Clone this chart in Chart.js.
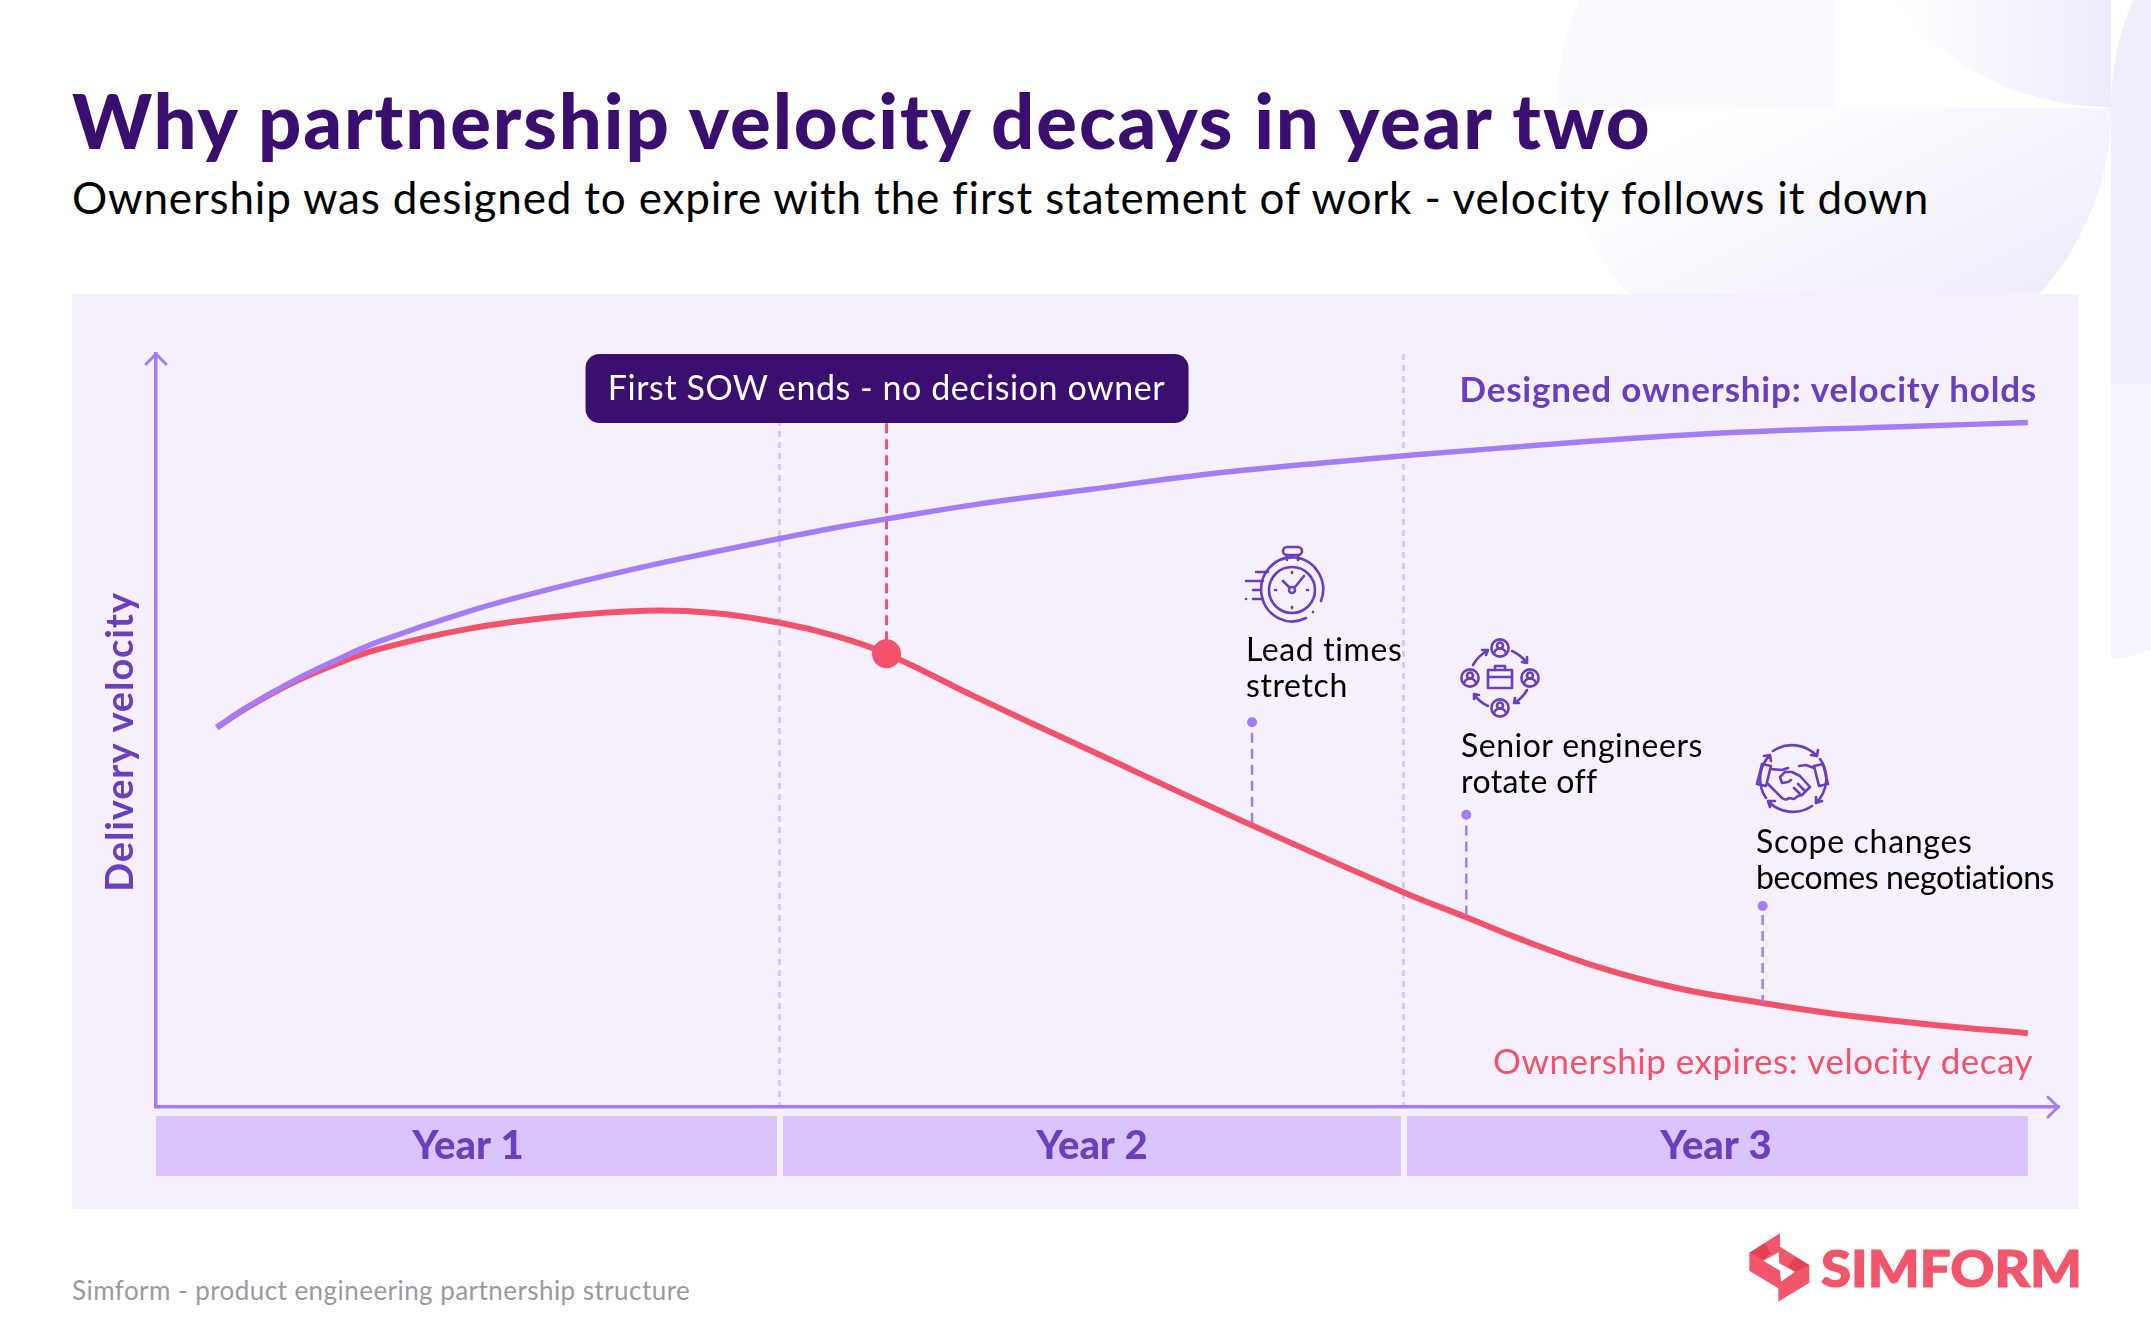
<!DOCTYPE html><html lang="en"><head><meta charset="UTF-8">
<title>Why partnership velocity decays in year two</title>
<script src="https://cdn.jsdelivr.net/npm/chart.js"></script>
<style>
    html, body { margin: 0; padding: 0; background: #fff; }
    body { position: relative; width: 2151px; height: 1335px; overflow: hidden; font-family: Lato, sans-serif; }
    svg, canvas, .panel, h1, h2, .source { position: absolute; }
    .panel { left: 72px; top: 294px; width: 2007px; height: 915px; background: rgba(245, 238, 253, 0.88); }
    h1 { left: 72px; top: 75px; margin: 0; font-size: 76px; line-height: 90px; font-weight: 900; letter-spacing: 1.9px; color: #3a0e6e; white-space: nowrap; }
    h2 { left: 72px; top: 167px; margin: 0; font-size: 44px; line-height: 60px; font-weight: 400; letter-spacing: 0.83px; color: #000; white-space: nowrap; }
    .source { left: 72px; top: 1274px; font-size: 26px; line-height: 32px; letter-spacing: 0.45px; color: #9a9aa2; white-space: nowrap; }
</style>
</head>
<body>
    <svg width="2151" height="1335" viewBox="0 0 2151 1335">
        <defs>
            <linearGradient id="fadeA" x1="0" y1="0" x2="1" y2="1"><stop offset="0.15" stop-color="#fff"/><stop offset="0.85" stop-color="#efe9fb"/></linearGradient>
            <linearGradient id="fadeB" x1="0" y1="0" x2="1" y2="0"><stop offset="0" stop-color="#fff"/><stop offset="1" stop-color="#efeafb"/></linearGradient>
        </defs>
        <path d="M1834,108 L1557,108 A277,277 0 0 1 1834,-169 Z" fill="#fbf9fe"/>
        <path d="M1557,108 A277,277 0 0 0 2111,108 Z" fill="url(#fadeA)"/>
        <path d="M2111,107 A277,277 0 0 1 1892,0 L2111,0 Z" fill="url(#fadeB)"/>
        <path d="M2111,107 A277,277 0 0 1 2133,0 L2151,0 L2151,107 Z" fill="#f1edfb"/>
        <rect x="2111" y="107" width="40" height="277" fill="#f2eefc"/>
        <path d="M2111,384 L2151,384 L2151,650 A277,277 0 0 1 2111,660 Z" fill="#f8f5fe"/>
    </svg>
    <div class="panel"></div>
    <h1>Why partnership velocity decays in year two</h1>
    <h2>Ownership was designed to expire with the first statement of work - velocity follows it down</h2>
    <div class="source">Simform - product engineering partnership structure</div>
    <canvas id="chart" width="2151" height="1335"></canvas>

    <svg width="2151" height="1335" viewBox="0 0 2151 1335" fill="none" stroke="#6a3fbf" stroke-width="2.6" stroke-linecap="round" stroke-linejoin="round">
        <!-- stopwatch -->
        <g>
            <path d="M1321,601 A31,32 0 1 0 1306,618 M1313,612 v.1"/>
            <circle cx="1292" cy="590" r="23"/>
            <rect x="1283" y="547" width="19" height="8" rx="4"/>
            <path d="M1287,555 v5 M1298,555 v5"/>
            <path d="M1295,587 l9,-11 M1289,587 l-6,-6"/>
            <circle cx="1292" cy="590" r="3"/>
            <path d="M1292,572 v1 M1292,607 v1 M1275,590 h1 M1307,590 h1"/>
            <path d="M1256,572 h12 M1246,581 h17 M1253,590 h8 M1253,599 h10 M1246,599 h.1"/>
        </g>
        <!-- people around a briefcase -->
        <g>
            <g id="person">
                <circle cx="1500" cy="648" r="8.6"/>
                <circle cx="1500" cy="645.5" r="3"/>
                <path d="M1494,654 a6,5.5 0 0 1 12,0"/>
            </g>
            <use href="#person" y="60"/>
            <use href="#person" x="-30" y="30"/>
            <use href="#person" x="30" y="30"/>
            <rect x="1488" y="670" width="24" height="18"/>
            <path d="M1495,670 v-4 h10 v4 M1488,677 h24"/>
            <path d="M1473,665 q5,-9 15,-15 M1488,650 l-6,0 M1488,650 l-2,5"/>
            <path d="M1512,651 q9,4 15,12 M1527,663 l-5,-1 M1527,663 l0,-6"/>
            <path d="M1527,690 q-5,9 -13,13 M1514,703 l5,0 M1514,703 l1,-5"/>
            <path d="M1488,706 q-9,-4 -14,-12 M1474,694 l5,1 M1474,694 l0,5"/>
        </g>
        <!-- handshake with cycle arrows -->
        <g>
            <path d="M1766,798 A34,34 0 0 1 1770,755 M1770,755 l-6,1 M1770,755 l1,6"/>
            <path d="M1773,751 A34,34 0 0 1 1817,756 M1817,756 l-6,-1 M1817,756 l1,-6"/>
            <path d="M1820,759 A34,34 0 0 1 1816,803 M1816,803 l0,-6 M1816,803 l6,-2"/>
            <path d="M1812,806 A34,34 0 0 1 1768,801 M1768,801 l7,0 M1768,801 l2,6"/>
            <path d="M1771,766 l-9,-2 l-5,20 l9,2 Z M1814,766 l9,-2 l5,20 l-9,2 Z"/>
            <path d="M1770,769 l12,1 l6,-2 M1768,784 l14,14 q4,3 7,0 l5,1 l4,-3 l4,-1 l8,-8 l-10,-11 l-8,-4 l-7,0 l-5,5 l2,6 l6,-1 l3,-2"/>
            <path d="M1799,766 l7,-1 l8,3 M1794,788 l6,6 M1798,784 l6,6"/>
        </g>
    </svg>

    <svg width="2151" height="1335" viewBox="0 0 2151 1335">
        <g transform="translate(1720,1200) scale(0.3333)">
            <path d="M180,100 L88,158 L88,212 L175,265 L175,305 L268,248 L268,195 L180,140 Z" fill="#f2566c"/>
            <path d="M88,158 L134,130 L152,160 L130,180 L88,158" fill="#dc3146" opacity="0.6"/>
            <path d="M268,195 L225,170 L205,200 L225,215 L268,195" fill="#dc3146" opacity="0.6"/>
            <path d="M130,182 L176,157 L178,190 L225,215 L183,245 L180,212 Z" fill="#fff"/>
        </g>
        <text x="1821" y="1287" font-family="Lato" font-weight="900" font-size="51" fill="#f2566c" stroke="#f2566c" stroke-width="1.2" textLength="261" lengthAdjust="spacingAndGlyphs">SIMFORM</text>
    </svg>

    <script>
        const designedMonths = [1.17, 1.7, 2.56, 3.42, 4.28, 6, 7.71, 9.42, 10.72, 12, 13.04, 14.05, 15.75, 17.95, 20.16, 22.37, 25.85, 29.84, 33.83, 36];
        const designedVelocity = [50.4, 52.9, 56.3, 59.2, 61.8, 65.8, 69.0, 71.8, 73.7, 75.5, 76.9, 78.1, 80.0, 82.0, 84.0, 85.5, 87.5, 89.4, 90.4, 90.9];
        const decayMonths = [1.17, 1.7, 2.56, 3.42, 4.28, 6, 7.71, 9.42, 10.72, 12, 13.04, 14.05, 15.75, 17.95, 21.08, 24, 25.2, 26.2, 27.73, 29.25, 30.9, 32.3, 34.2, 36];
        const decayVelocity = [50.4, 52.8, 56.1, 58.7, 60.8, 63.5, 65.1, 65.9, 65.6, 64.3, 62.6, 60.2, 54.5, 47.4, 37.4, 28.5, 25.2, 22.4, 18.6, 15.8, 13.8, 12.35, 10.9, 9.8];
        const yearLabels = ["Year 1", "Year 2", "Year 3"];
        const yearCentres = [6, 18, 30];
        const yearStarts = [0, 12, 24];
        const yearDividers = [12, 24];
        const sowMonth = 14.05;
        const sowVelocity = 60.2;
        const sowTop = 90.8;
        const calloutMonths = [21.08, 25.2, 30.9];
        const calloutDots = [51.1, 38.8, 26.7];
        const calloutTops = [49.7, 37.4, 25.5];
        const calloutBottoms = [37.4, 25.2, 13.8];

        const PURPLE = "#a47cf9";
        const DEEP = "#6a3fbf";
        const RED = "#f2536b";
        const FONT = "Lato, sans-serif";

        function stem(month, top, bottom, color, width) {
            return {
                data: [{x: month, y: top}, {x: month, y: bottom}],
                borderColor: color,
                borderWidth: width,
                borderDash: [10, 6],
                pointRadius: 0
            };
        }

        const datasets = [
            {
                label: "Designed ownership",
                data: designedMonths.map((m, i) => ({x: m, y: designedVelocity[i]})),
                borderColor: PURPLE,
                borderWidth: 5.5,
                tension: 0.4,
                pointRadius: 0
            },
            stem(sowMonth, sowTop, sowVelocity, RED, 3)
        ];
        calloutMonths.forEach((m, i) => {
            datasets.push(stem(m, calloutTops[i], calloutBottoms[i], PURPLE, 2.5));
            datasets.push({
                data: [{x: m, y: calloutDots[i]}],
                pointRadius: 5,
                pointBackgroundColor: PURPLE,
                pointBorderWidth: 0
            });
        });
        datasets.push({
            label: "Ownership expires",
            data: decayMonths.map((m, i) => ({x: m, y: decayVelocity[i]})),
            borderColor: RED,
            borderWidth: 6,
            tension: 0.4,
            pointRadius: 0
        });
        datasets.push({
            data: [{x: sowMonth, y: sowVelocity}],
            pointRadius: 14.5,
            pointBackgroundColor: RED,
            pointBorderWidth: 0
        });

        function label(ctx, text, x, y, spacing) {
            ctx.letterSpacing = spacing + "px";
            ctx.fillText(text, x, y);
        }

        // year bands sit under the axis, everything else is text and arrowheads
        const extras = {
            id: "extras",
            beforeDraw(chart) {
                const {ctx, scales: {x}} = chart;
                ctx.save();
                ctx.fillStyle = "#d9c4fd";
                yearStarts.forEach((start, i) => {
                    const left = x.getPixelForValue(start) + (i ? 3 : 0);
                    const right = x.getPixelForValue(start + 12) - (i < 2 ? 3 : 0);
                    ctx.fillRect(left, 1116, right - left, 60);
                });
                ctx.restore();
            },
            afterDraw(chart) {
                const {ctx, chartArea: a, scales: {x}} = chart;
                ctx.save();
                ctx.strokeStyle = PURPLE;
                ctx.lineWidth = 3;
                ctx.lineCap = "round";
                ctx.beginPath();
                ctx.moveTo(a.left - 10, a.top + 10); ctx.lineTo(a.left, a.top); ctx.lineTo(a.left + 10, a.top + 10);
                ctx.moveTo(a.right - 10, a.bottom - 10); ctx.lineTo(a.right, a.bottom); ctx.lineTo(a.right - 10, a.bottom + 10);
                ctx.stroke();

                // SOW callout box
                const cx = x.getPixelForValue(sowMonth);
                ctx.fillStyle = "#3a0e6e";
                ctx.beginPath();
                ctx.roundRect(cx - 301, 354, 603, 69, 14);
                ctx.fill();
                ctx.fillStyle = "#fff";
                ctx.font = "400 34px " + FONT;
                ctx.textAlign = "center";
                label(ctx, "First SOW ends - no decision owner", cx, 400, 0.56);

                ctx.textAlign = "right";
                ctx.font = "700 35px " + FONT;
                ctx.fillStyle = DEEP;
                label(ctx, "Designed ownership: velocity holds", 2037, 402, 0.8);
                ctx.font = "400 35px " + FONT;
                ctx.fillStyle = RED;
                label(ctx, "Ownership expires: velocity decay", 2033, 1074, 0.5);

                ctx.textAlign = "left";
                ctx.fillStyle = "#000";
                ctx.font = "400 32px " + FONT;
                label(ctx, "Lead times", 1246, 661, 0.6);
                label(ctx, "stretch", 1246, 697, 0.6);
                label(ctx, "Senior engineers", 1461, 757, 0.5);
                label(ctx, "rotate off", 1461, 793, 0.4);
                label(ctx, "Scope changes", 1756, 853, 0.7);
                label(ctx, "becomes negotiations", 1756, 889, -0.4);

                ctx.translate(133, 742);
                ctx.rotate(-Math.PI / 2);
                ctx.textAlign = "center";
                ctx.font = "700 38px " + FONT;
                ctx.fillStyle = DEEP;
                label(ctx, "Delivery velocity", 0, 0, 0.9);
                ctx.restore();
            }
        };

        new Chart(document.getElementById("chart"), {
            type: "line",
            data: {datasets},
            plugins: [extras],
            options: {
                responsive: false,
                animation: false,
                parsing: false,
                layout: {padding: {left: 148, top: 354, right: 93, bottom: 150}},
                plugins: {legend: {display: false}, tooltip: {enabled: false}},
                scales: {
                    x: {
                        type: "linear",
                        min: 0,
                        max: 36.58,
                        border: {color: PURPLE, width: 3.5, dash: [6, 5]},
                        grid: {
                            drawTicks: false,
                            lineWidth: 3,
                            color: c => yearDividers.includes(c.tick.value) ? "#d9c4fd" : "transparent"
                        },
                        afterBuildTicks(axis) {
                            axis.ticks = [...yearCentres, ...yearDividers].sort((a, b) => a - b).map(value => ({value}));
                        },
                        ticks: {
                            autoSkip: false,
                            maxRotation: 0,
                            padding: 15,
                            color: DEEP,
                            font: {family: FONT, size: 40, weight: "900"},
                            callback: v => yearLabels[yearCentres.indexOf(v)] || ""
                        }
                    },
                    y: {
                        min: 0,
                        max: 100,
                        border: {color: PURPLE, width: 3.5},
                        grid: {display: false},
                        ticks: {display: false}
                    }
                }
            }
        });
    </script>
</body>
</html>
